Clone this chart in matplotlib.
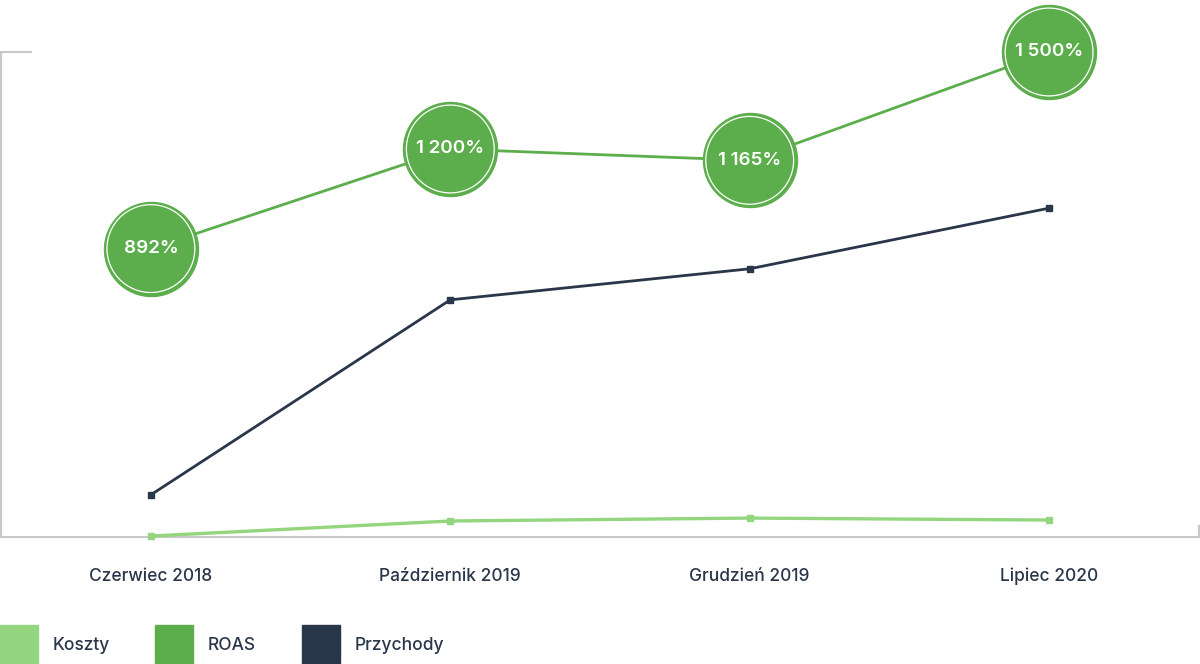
import numpy as np
import matplotlib
matplotlib.use("Agg")
import matplotlib.pyplot as plt
from matplotlib.patches import Rectangle

# ================= DATA =================
periods = ["Czerwiec 2018", "Październik 2019", "Grudzień 2019", "Lipiec 2020"]
koszty = [0.2, 3.3, 3.9, 3.5]
przychody = [8.7, 48.9, 55.3, 67.8]
roas = [892, 1200, 1165, 1500]
roas_labels = ["892%", "1 200%", "1 165%", "1 500%"]

legend_names = ["Koszty", "ROAS", "Przychody"]
# ========================================

C_KOSZTY = "#93d67f"
C_ROAS = "#5cae4c"
C_PRZYCH = "#2a3649"
C_AXIS = "#c8c8c8"

plt.rcParams["font.family"] = ["Inter", "DejaVu Sans"]

fig = plt.figure(figsize=(12, 6.64), dpi=100)
ax = fig.add_axes([0.001, 127 / 664, 0.998, 485 / 664])
ax2 = ax.twinx()

x = np.arange(len(periods)) + 0.5

ax.plot(x, koszty, color=C_KOSZTY, lw=2.4, marker="s", ms=5, zorder=3)
ax.plot(x, przychody, color=C_PRZYCH, lw=2.0, marker="s", ms=5, zorder=3)
ax.set_ylim(0, 100)
ax.set_xlim(0, 4)

ax2.plot(x, roas, color=C_ROAS, lw=2.0, zorder=2)
ax2.scatter(x, roas, s=4580, color=C_ROAS, zorder=3)
ax2.scatter(x, roas, s=4000, facecolor="none", edgecolor="white", lw=0.9, zorder=4)
for xi, v, lab in zip(x, roas, roas_labels):
    ax2.text(xi, v, lab, color="white", fontsize=13.5, fontweight="semibold",
             ha="center", va="center", zorder=5)
ax2.set_ylim(0, 1500)

for a in (ax, ax2):
    for s in a.spines.values():
        s.set_visible(False)
    a.set_yticks([])
    a.patch.set_visible(False)
for line in ax.lines + ax2.lines:
    line.set_clip_on(False)
for coll in ax2.collections:
    coll.set_clip_on(False)

ax.spines["left"].set_visible(True)
ax.spines["bottom"].set_visible(True)
ax.spines["left"].set_color(C_AXIS)
ax.spines["bottom"].set_color(C_AXIS)
ax.spines["left"].set_linewidth(1.5)
ax.spines["bottom"].set_linewidth(1.5)

ax.set_xticks(x)
ax.set_xticklabels(periods, fontsize=12.5, color=C_PRZYCH, fontweight="medium")
ax.tick_params(axis="x", length=0, pad=22)
ax.set_xticks([4], minor=True)
ax.tick_params(axis="x", which="minor", direction="in", length=9, width=1.5, color=C_AXIS)
ax.set_yticks([100], minor=True)
ax.tick_params(axis="y", which="minor", direction="in", length=22, width=1.5, color=C_AXIS)

# legend
colors = [C_KOSZTY, C_ROAS, C_PRZYCH]
sq_x = [0, 155, 302]
for name, c, px in zip(legend_names, colors, sq_x):
    fig.add_artist(Rectangle((px / 1200, 1 / 664), 38 / 1200, 38 / 664,
                             transform=fig.transFigure, color=c))
    fig.text((px + 53) / 1200, 1 - 645 / 664, name, fontsize=12.5,
             color=C_PRZYCH, va="center", ha="left", fontweight="medium")

fig.savefig("out.png", dpi=100)
